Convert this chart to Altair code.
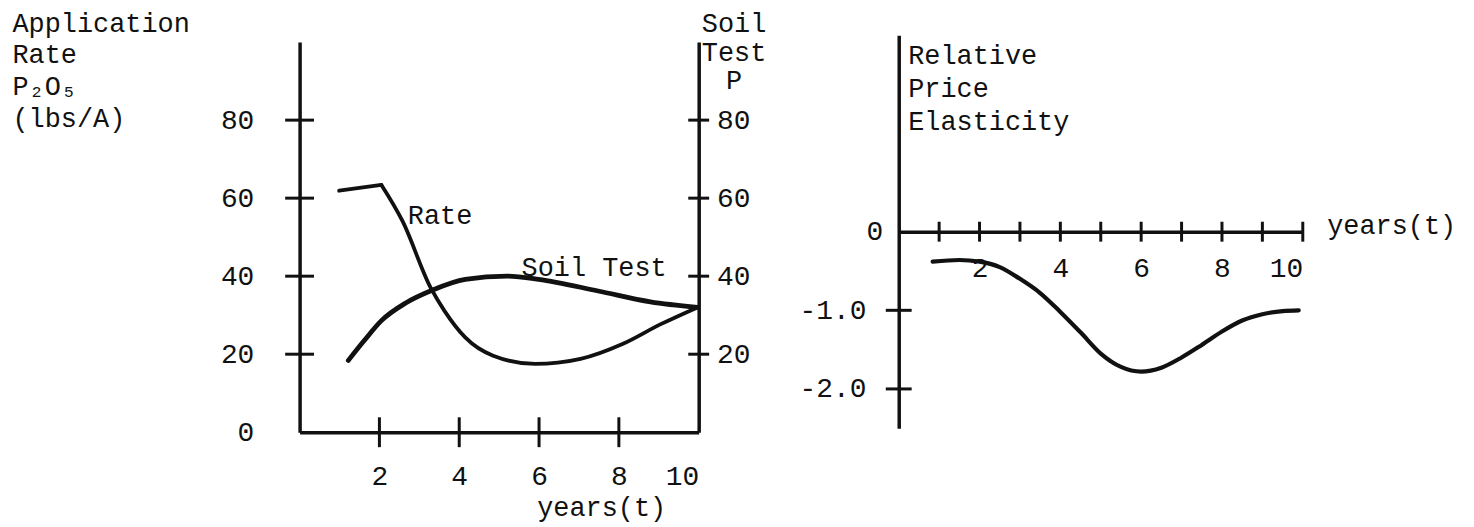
import altair as alt
import pandas as pd

# ---------------- data ----------------
# left panel: application rate (lbs/A) and soil test P over years
rate_head_t = [0.99, 2.05]
rate_head_v = [61.9, 63.4]
rate_t = [2.05, 2.58, 3.28, 3.63, 4.15, 4.85, 5.9, 7.04, 8.09, 9.05, 9.97]
rate_v = [63.4, 54.1, 37.1, 31.1, 24.3, 19.6, 17.5, 18.8, 22.6, 27.7, 32.0]
soil_t = [1.22, 1.62, 2.05, 2.67, 3.32, 4.15, 5.2, 5.99, 7.48, 8.79, 9.97]
soil_v = [18.4, 23.5, 28.6, 33.2, 36.4, 39.2, 40.0, 39.2, 36.2, 33.4, 32.0]

# right panel: relative price elasticity over years
el_t = [0.84, 1.5, 2.0, 2.5, 3.0, 3.5, 4.0, 4.5, 5.0, 5.5, 6.0, 6.5, 7.0, 7.5, 8.0, 8.5, 9.0, 9.5, 9.9]
el_v = [-0.38, -0.36, -0.38, -0.45, -0.6, -0.78, -1.02, -1.28, -1.55, -1.72, -1.78, -1.73,
        -1.6, -1.44, -1.27, -1.13, -1.05, -1.01, -1.0]

# ticks and tick labels
left_x_ticks = [2, 4, 6, 8]
left_x_labels = [2, 4, 6, 8, 10]
left_y_ticks = [20, 40, 60, 80]
left_y_labels = [0, 20, 40, 60, 80]
soil_y_labels = [20, 40, 60, 80]
right_x_ticks = [1, 2, 3, 4, 5, 6, 7, 8, 9, 10]
right_x_labels = [2, 4, 6, 8, 10]
right_y_ticks = [-1, -2]
right_y_labels = [0, -1, -2]

# curve annotations
ann_text = ["Rate", "Soil Test"]
ann_t = [3.52, 7.38]
ann_v = [55.4, 42.1]

left_title = ["Application", "Rate", "P\u2082O\u2085", "(lbs/A)"]
soil_title = ["Soil", "Test", "P"]
right_title = ["Relative", "Price", "Elasticity"]

# ---------------- styling ----------------
FONT = "Liberation Mono"
INK = "#111111"

xl = alt.Scale(domain=[0, 10], nice=False, zero=False)
yl = alt.Scale(domain=[0, 100], range=[399, 7], nice=False, zero=False)
xr = alt.Scale(domain=[0, 10], nice=False, zero=False)
yr = alt.Scale(domain=[-2.5, 2.5], nice=False, zero=False)

x_axis_l = alt.Axis(values=left_x_labels, labelPadding=45, labelBaseline="middle",
                    labelFlush=True, title="years(t)", titleX=303, titleY=76,
                    titleAlign="center", titleBaseline="middle")
y_axis_l = alt.Axis(values=left_y_labels, labelPadding=46, title=left_title,
                    titleAngle=0, titleAlign="left", titleBaseline="top",
                    titleX=-289, titleY=-25, titleLineHeight=32)
y_axis_soil = alt.Axis(orient="right", values=soil_y_labels, labelPadding=18,
                       title=soil_title, titleAngle=0, titleAlign="center",
                       titleBaseline="top", titleX=35, titleY=-25, titleLineHeight=29)
x_axis_r = alt.Axis(values=right_x_labels, offset=-197.5, labelPadding=37,
                    labelBaseline="middle", labelFlush=True, title="years(t)",
                    titleX=430, titleY=2, titleAlign="left", titleBaseline="alphabetic")
y_axis_r = alt.Axis(values=right_y_labels,
                    labelExpr="datum.value == 0 ? '0' : '-' + format(abs(datum.value), '.1f')",
                    labelAlign={"condition": {"test": "datum.value == 0", "value": "left"},
                                "value": "right"},
                    labelPadding=33, title=right_title, titleAngle=0, titleAlign="left",
                    titleBaseline="top", titleX=9, titleY=7.5, titleLineHeight=33)

XL = alt.X("t:Q", scale=xl, axis=x_axis_l)
XR = alt.X("t:Q", scale=xr, axis=x_axis_r)
YR = alt.Y("v:Q", scale=yr, axis=y_axis_r)

# ---------------- left panel ----------------
rate_head = alt.Chart(pd.DataFrame({"t": rate_head_t, "v": rate_head_v})).mark_line(
    color=INK, strokeWidth=3.8, strokeCap="round", interpolate="linear"
).encode(x=XL, y=alt.Y("v:Q", scale=yl, axis=y_axis_l))

rate_tail = alt.Chart(pd.DataFrame({"t": rate_t, "v": rate_v})).mark_line(
    color=INK, strokeWidth=3.8, strokeCap="round", interpolate="monotone"
).encode(x=XL, y=alt.Y("v:Q", scale=yl, axis=None))

soil = alt.Chart(pd.DataFrame({"t": soil_t, "v": soil_v})).mark_line(
    color=INK, strokeWidth=4.8, strokeCap="round", interpolate="monotone"
).encode(x=XL, y=alt.Y("v:Q", scale=yl, axis=y_axis_soil))

lx_ticks = alt.Chart(pd.DataFrame({"t": left_x_ticks, "v": [0] * len(left_x_ticks)})).mark_tick(
    orient="vertical", size=30, thickness=3, color=INK, opacity=1
).encode(x=XL, y=alt.Y("v:Q", scale=yl, axis=None))

ly_ticks = alt.Chart(pd.DataFrame({"t": [0] * len(left_y_ticks), "v": left_y_ticks})).mark_tick(
    orient="horizontal", size=29, thickness=3, color=INK, opacity=1
).encode(x=XL, y=alt.Y("v:Q", scale=yl, axis=None))

ry_ticks = alt.Chart(pd.DataFrame({"t": [10] * len(left_y_ticks), "v": left_y_ticks})).mark_tick(
    orient="horizontal", size=21, thickness=3, color=INK, opacity=1
).encode(x=XL, y=alt.Y("v:Q", scale=yl, axis=None))

ann = alt.Chart(pd.DataFrame({"t": ann_t, "v": ann_v, "s": ann_text})).mark_text(
    font=FONT, fontSize=27, color=INK, align="center", baseline="middle"
).encode(x=XL, y=alt.Y("v:Q", scale=yl, axis=None), text="s:N")

left = alt.layer(rate_head, rate_tail, soil, lx_ticks, ly_ticks, ry_ticks, ann).resolve_scale(
    y="independent"
).properties(width=401, height=399)

# ---------------- right panel ----------------
curve = alt.Chart(pd.DataFrame({"t": el_t, "v": el_v})).mark_line(
    color=INK, strokeWidth=4.2, strokeCap="round", interpolate="monotone"
).encode(x=XR, y=YR)

rx_ticks = alt.Chart(pd.DataFrame({"t": right_x_ticks, "v": [0] * len(right_x_ticks)})).mark_tick(
    orient="vertical", size=20, thickness=3, color=INK, opacity=1
).encode(x=XR, y=YR)

rY_ticks = alt.Chart(pd.DataFrame({"t": [0] * len(right_y_ticks), "v": right_y_ticks})).mark_tick(
    orient="horizontal", size=26, thickness=3, color=INK, opacity=1
).encode(x=XR, y=YR)

right = alt.layer(curve, rx_ticks, rY_ticks).properties(width=406, height=395)

chart = alt.hconcat(left, right, spacing=201, bounds="flush").properties(
    padding={"left": 4, "top": 0, "right": 10, "bottom": 12}, background="white"
).configure_axis(
    labelFont=FONT, labelFontSize=28, labelColor=INK, titleFont=FONT, titleFontSize=27,
    titleFontWeight="normal", titleColor=INK, domainColor=INK, domainWidth=3.5,
    grid=False, ticks=False, tickSize=0
).configure_view(stroke=None)

chart.save("out.html", embed_options={"renderer": "svg", "actions": False})
